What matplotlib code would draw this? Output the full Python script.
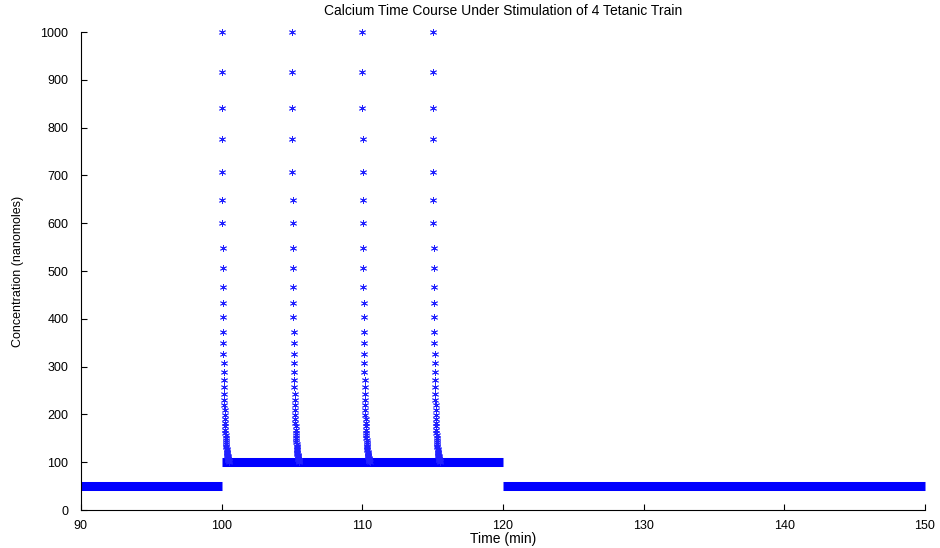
import matplotlib
matplotlib.use("Agg")
from matplotlib import pyplot as plt

# stimulus onsets (min)
spike_start = [100, 105, 110, 115]

# concentration after each stimulus (nanomoles), read from the spike columns
spike_vals = [1000, 917, 841, 776, 708, 649, 600, 548, 506, 467, 433, 404,
              372, 349, 327, 307, 289, 272, 257, 243, 231, 219, 209, 199,
              190, 182, 175, 168, 162, 156, 151, 146, 142, 138, 134, 131,
              128, 125, 122, 120, 118, 116, 114, 112, 110, 109, 107, 106,
              105, 104, 103, 102, 101]
# time after onset of each of those points (min)
spike_dt = [0.00, 0.01, 0.02, 0.03, 0.04, 0.05, 0.06, 0.07, 0.08, 0.09,
            0.10, 0.11, 0.12, 0.13, 0.14, 0.15, 0.16, 0.17, 0.18, 0.19,
            0.20, 0.21, 0.22, 0.23, 0.24, 0.25, 0.26, 0.27, 0.28, 0.29,
            0.30, 0.31, 0.32, 0.33, 0.34, 0.35, 0.36, 0.37, 0.38, 0.39,
            0.40, 0.41, 0.42, 0.43, 0.44, 0.45, 0.46, 0.47, 0.48, 0.49,
            0.50, 0.51, 0.52]

# steady levels between stimuli
band_start = [90, 100, 120]
band_end = [100, 120, 150]
band_level = [50, 100, 50]

xticks = [90, 100, 110, 120, 130, 140, 150]
yticks = [0, 100, 200, 300, 400, 500, 600, 700, 800, 900, 1000]

plt.rcParams['font.family'] = ['Liberation Sans', 'DejaVu Sans']
plt.rcParams['font.size'] = 9

fig = plt.figure(figsize=(9.4, 5.48), dpi=100)
ax = fig.add_axes([0.086, 0.0693, 0.898, 0.8723])

for s, e, lv in zip(band_start, band_end, band_level):
    ax.plot([s, e], [lv, lv], color='#0000ff', lw=6.5, solid_capstyle='butt',
            clip_on=False, zorder=2)

for t0 in spike_start:
    ts = [t0 + d for d in spike_dt]
    ax.plot(ts, spike_vals, linestyle='none', marker=(6, 2, 0), ms=5,
            mew=0.6, color='#2020ff', clip_on=False, zorder=3)

ax.set_xlim(90, 150)
ax.set_ylim(0, 1000)
ax.set_xticks(xticks)
ax.set_yticks(yticks)
ax.tick_params(direction='in', length=4, width=0.8)
ax.tick_params(axis='x', pad=7)
ax.tick_params(axis='y', pad=9)
for sp in ['top', 'right']:
    ax.spines[sp].set_visible(False)
for sp in ['left', 'bottom']:
    ax.spines[sp].set_linewidth(0.8)

ax.set_title('Calcium Time Course Under Stimulation of 4 Tetanic Train',
             fontsize=10, pad=12)
ax.set_xlabel('Time (min)', fontsize=10, labelpad=0)
ax.set_ylabel('Concentration (nanomoles)', labelpad=12)

plt.savefig("out.png", dpi=100)
